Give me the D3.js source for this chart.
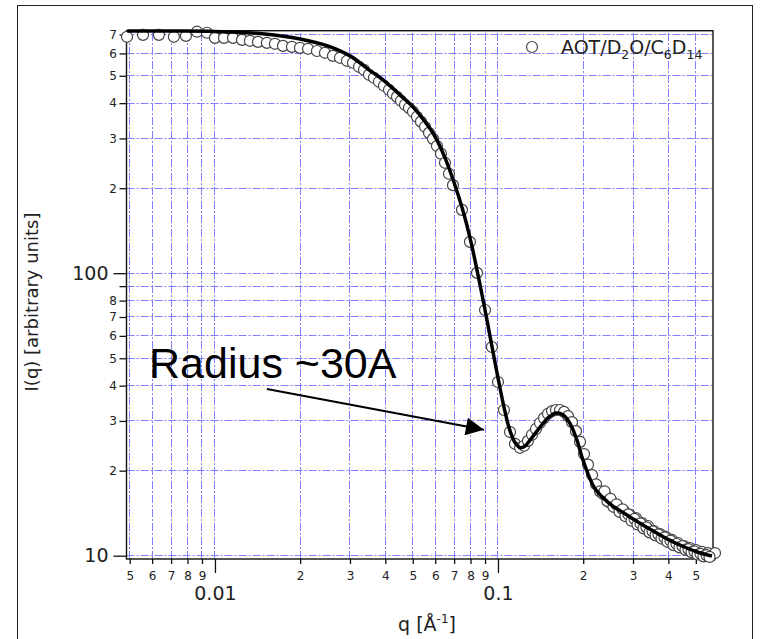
<!DOCTYPE html>
<html>
<head>
<meta charset="utf-8">
<script src="https://cdn.jsdelivr.net/npm/d3@7"></script>
<style>
  body { margin: 0; background: #fff; }
  svg { display: block; }
</style>
</head>
<body>
<div id="chart"></div>
<script>
// Measured data points (open circles).
const qData = [
  0.00489, 0.00557, 0.00634, 0.00716, 0.0079, 0.00864, 0.00937, 0.01,
  0.01076, 0.01158, 0.01246, 0.01329, 0.01419, 0.01526, 0.01629, 0.01739, 0.01871, 0.01997,
  0.02132, 0.02293, 0.02448, 0.02612, 0.02765, 0.02927,
  0.03073, 0.03228, 0.03362, 0.03501, 0.03646, 0.03797, 0.03955, 0.0412, 0.04256, 0.04397,
  0.04542, 0.04693, 0.04848, 0.05008, 0.05174, 0.05345, 0.05521, 0.05704, 0.05892, 0.06087,
  0.06289, 0.06497, 0.06712, 0.06934,
  0.0746, 0.0796, 0.0843, 0.09, 0.0952, 0.1, 0.105, 0.1103, 0.1148, 0.1196,
  0.1236, 0.1276, 0.1319, 0.1362, 0.1407, 0.1454, 0.1502, 0.1552, 0.1603, 0.1656,
  0.1711, 0.1767, 0.1826, 0.1886, 0.1949, 0.2014, 0.208, 0.2149, 0.222, 0.2293,
  0.235, 0.2408, 0.2468, 0.2528, 0.2591, 0.2655, 0.272, 0.2787, 0.2856, 0.2927,
  0.2999, 0.3073, 0.3149, 0.3227, 0.3306, 0.3388, 0.3472, 0.3557, 0.3645, 0.3735,
  0.3828, 0.3922, 0.4019, 0.4118, 0.422, 0.4325, 0.4431, 0.4541, 0.4653, 0.4768,
  0.4887, 0.5007, 0.5131, 0.5258, 0.5388, 0.5521, 0.5658, 0.5845,
  0.2379, 0.2438, 0.2498, 0.2559, 0.2623, 0.2688, 0.2753, 0.2821, 0.2891, 0.2963,
  0.3036, 0.3111, 0.3188, 0.3267, 0.3347, 0.343, 0.3515, 0.3601, 0.369, 0.3781,
  0.3875, 0.397, 0.4068, 0.4169, 0.4272, 0.4378, 0.4486, 0.4597, 0.471, 0.4827,
  0.4947, 0.5069, 0.5194, 0.5323, 0.5454, 0.5589
];
const iData = [
  687, 698, 698, 687, 692, 716, 710, 681,
  681, 681, 670, 665, 659, 654, 649, 638, 633, 628,
  623, 612, 603, 588, 579, 565,
  556, 538, 525, 504, 492, 476, 461, 446, 432, 421,
  408, 395, 385, 373, 358, 344, 330, 314, 299, 282,
  265, 246, 225, 205,
  167.6, 129.1, 100.3, 74.1, 54.8, 41.2, 32.8, 27.4, 24.9, 24.1,
  24.5, 25.5, 26.8, 28.1, 29.5, 30.7, 31.8, 32.5, 32.8, 32.8,
  32.3, 31.2, 29.7, 27.6, 25.3, 22.9, 21.0, 19.3, 17.9, 16.9,
  16.54, 16.27, 15.50, 15.50, 14.88, 14.88, 14.40, 14.40, 13.82, 13.94,
  13.49, 13.60, 13.05, 13.05, 12.64, 12.74, 12.13, 12.23, 11.84, 11.93,
  11.55, 11.65, 11.18, 11.37, 10.91, 11.09, 10.73, 10.82, 10.47, 10.65,
  10.31, 10.47, 10.14, 10.31, 10.06, 10.22, 9.98, 10.22,
  16.9, 15.6, 15.9, 14.9, 15.2, 14.3, 14.6, 13.8, 14.0, 13.3,
  13.5, 12.9, 13.0, 12.5, 12.6, 12.1, 12.2, 11.8, 11.9, 11.5,
  11.6, 11.2, 11.3, 10.9, 11.0, 10.7, 10.8, 10.5, 10.55, 10.3,
  10.35, 10.1, 10.15, 9.95, 10.05, 9.9
];

// Model fit (thick black line).
const qFit = [0.0049, 0.007, 0.01, 0.015, 0.02, 0.025, 0.03, 0.035, 0.04, 0.045,
  0.05, 0.055, 0.06, 0.065, 0.07, 0.075, 0.08, 0.085, 0.09, 0.095,
  0.1, 0.105, 0.11, 0.115, 0.12, 0.125, 0.13, 0.14, 0.15, 0.16,
  0.17, 0.18, 0.19, 0.2, 0.22, 0.25, 0.28, 0.3, 0.35, 0.4,
  0.45, 0.5, 0.55, 0.57];
const iFit = [720, 720, 718, 703, 675, 638, 588, 525, 476, 428,
  388, 346, 304, 256, 209, 168, 131, 98.6, 74.1, 55.7,
  42.6, 33.6, 27.9, 25.1, 24.1, 24.5, 25.7, 28.3, 30.7, 32.0,
  31.5, 29.3, 25.7, 21.7, 17.3, 15.2, 14.1, 13.5, 12.3, 11.4,
  10.8, 10.35, 10.06, 9.97];

// Tick values and labels.
const xMinorTicks = [0.005, 0.006, 0.007, 0.008, 0.009, 0.02, 0.03, 0.04, 0.05, 0.06, 0.07, 0.08, 0.09, 0.2, 0.3, 0.4, 0.5];
const xMinorLabels = ["5", "6", "7", "8", "9", "2", "3", "4", "5", "6", "7", "8", "9", "2", "3", "4", "5"];
const xMajorTicks = [0.01, 0.1];
const xMajorLabels = ["0.01", "0.1"];
const yMinorTicks = [20, 30, 40, 50, 60, 70, 80, 90, 200, 300, 400, 500, 600, 700];
const yMinorLabels = ["2", "3", "4", "5", "6", "7", "8", "", "2", "3", "4", "5", "6", "7"];
const yMajorTicks = [10, 100];
const yMajorLabels = ["10", "100"];

// Annotation (data coordinates).
const noteText = "Radius ~30A";
const notePos = [0.00585, 42.6];
const arrowFrom = [0.01526, 38.9];
const arrowTo = [0.0892, 27.9];

const width = 767, height = 639;
const svg = d3.select("#chart").append("svg")
  .attr("width", width)
  .attr("height", height);

// Outer figure border.
svg.append("rect")
  .attr("x", 17.5).attr("y", 5.5)
  .attr("width", 735).attr("height", 660)
  .attr("fill", "none").attr("stroke", "#222").attr("stroke-width", 1);

const x = d3.scaleLog().domain([0.00487, 0.575]).range([126.5, 713]);
const y = d3.scaleLog().domain([9.735, 722]).range([559, 30.7]);
const [x0, x1] = x.range();
const [y0, y1] = y.range();
const crisp = v => Math.round(v - 0.5) + 0.5;

// Dash-dot grid at every tick.
const grid = svg.append("g")
  .attr("stroke", "#8080ff")
  .attr("stroke-width", 1)
  .attr("stroke-dasharray", "8,2,2,2");
grid.selectAll("line.gx")
  .data(xMinorTicks.concat(xMajorTicks))
  .join("line")
  .attr("class", "gx")
  .attr("x1", d => crisp(x(d))).attr("x2", d => crisp(x(d)))
  .attr("y1", y0).attr("y2", y1);
grid.selectAll("line.gy")
  .data(yMinorTicks.concat(yMajorTicks))
  .join("line")
  .attr("class", "gy")
  .attr("x1", x0).attr("x2", x1)
  .attr("y1", d => crisp(y(d))).attr("y2", d => crisp(y(d)));

// Axes.
function styleAxis(g, size, ty) {
  g.select(".domain").remove();
  g.attr("font-family", "DejaVu Sans");
  g.selectAll(".tick line").attr("stroke", "#111").attr("stroke-width", 1.3);
  g.selectAll(".tick text").attr("fill", "#222").attr("font-size", size);
  if (ty !== null) g.selectAll(".tick text").attr("y", ty).attr("dy", "0.35em");
}

svg.append("g")
  .attr("transform", `translate(0,${y0})`)
  .call(d3.axisBottom(x).tickValues(xMinorTicks).tickSize(5)
    .tickFormat(d => xMinorLabels[xMinorTicks.indexOf(d)]))
  .call(g => styleAxis(g, 12, 17));
svg.append("g")
  .attr("transform", `translate(0,${y0})`)
  .call(d3.axisBottom(x).tickValues(xMajorTicks).tickSize(14)
    .tickFormat(d => xMajorLabels[xMajorTicks.indexOf(d)]))
  .call(g => styleAxis(g, 19, 34));
svg.append("g")
  .attr("transform", `translate(${x0},0)`)
  .call(d3.axisLeft(y).tickValues(yMinorTicks).tickSize(7).tickPadding(2.5)
    .tickFormat(d => yMinorLabels[yMinorTicks.indexOf(d)]))
  .call(g => styleAxis(g, 12, null));
svg.append("g")
  .attr("transform", `translate(${x0},0)`)
  .call(d3.axisLeft(y).tickValues(yMajorTicks).tickSize(13).tickPadding(5)
    .tickFormat(d => yMajorLabels[yMajorTicks.indexOf(d)]))
  .call(g => styleAxis(g, 19, null));

// Plot frame.
svg.append("rect")
  .attr("x", x0).attr("y", y1)
  .attr("width", x1 - x0).attr("height", y0 - y1)
  .attr("fill", "none").attr("stroke", "#111").attr("stroke-width", 1.4);

// Axis titles.
const xTitle = svg.append("text")
  .attr("x", 427).attr("y", 631)
  .attr("text-anchor", "middle")
  .attr("font-family", "DejaVu Sans").attr("font-size", 19).attr("fill", "#222");
xTitle.append("tspan").text("q [Å");
xTitle.append("tspan").attr("dy", -8).attr("font-size", 12).text("-1");
xTitle.append("tspan").attr("dy", 8).text("]");

svg.append("text")
  .attr("transform", "translate(38,302) rotate(-90)")
  .attr("text-anchor", "middle")
  .attr("font-family", "DejaVu Sans").attr("font-size", 18).attr("fill", "#222")
  .text("I(q) [arbitrary units]");

// Data circles.
const points = qData.map((q, i) => ({ q: q, I: iData[i] }));
svg.append("g")
  .selectAll("circle")
  .data(points)
  .join("circle")
  .attr("cx", d => x(d.q))
  .attr("cy", d => y(d.I))
  .attr("r", 5.5)
  .attr("fill", "#fff")
  .attr("stroke", "#444")
  .attr("stroke-width", 1.2);

// Fit line.
const fit = qFit.map((q, i) => ({ q: q, I: iFit[i] }));
svg.append("path")
  .datum(fit)
  .attr("fill", "none")
  .attr("stroke", "#000")
  .attr("stroke-width", 3.5)
  .attr("stroke-linejoin", "round")
  .attr("d", d3.line().x(d => x(d.q)).y(d => y(d.I)).curve(d3.curveCatmullRom.alpha(0.5)));

// Legend.
svg.append("circle")
  .attr("cx", 532).attr("cy", 47).attr("r", 5.5)
  .attr("fill", "#fff").attr("stroke", "#444").attr("stroke-width", 1.2);
const legendParts = [["AOT/D", false], ["2", true], ["O/C", false], ["6", true], ["D", false], ["14", true]];
const legend = svg.append("text")
  .attr("x", 561).attr("y", 53.5)
  .attr("font-family", "DejaVu Sans").attr("font-size", 19).attr("fill", "#222");
let shifted = false;
legendParts.forEach(([t, sub]) => {
  const ts = legend.append("tspan").text(t);
  if (sub && !shifted) { ts.attr("dy", 5).attr("font-size", 12.5); shifted = true; }
  else if (sub) { ts.attr("font-size", 12.5); }
  else if (shifted) { ts.attr("dy", -5); shifted = false; }
});

// Annotation and arrow.
svg.append("defs").append("marker")
  .attr("id", "arrow")
  .attr("viewBox", "0 0 10 10")
  .attr("refX", 10).attr("refY", 5)
  .attr("markerWidth", 21).attr("markerHeight", 18)
  .attr("markerUnits", "userSpaceOnUse")
  .attr("orient", "auto")
  .append("path")
  .attr("d", "M0,0 L10,5 L0,10 z")
  .attr("fill", "#000");

svg.append("line")
  .attr("x1", x(arrowFrom[0])).attr("y1", y(arrowFrom[1]))
  .attr("x2", x(arrowTo[0])).attr("y2", y(arrowTo[1]))
  .attr("stroke", "#000").attr("stroke-width", 2)
  .attr("marker-end", "url(#arrow)");

svg.append("text")
  .attr("x", x(notePos[0])).attr("y", y(notePos[1]))
  .attr("font-family", "Liberation Sans, Arial, sans-serif")
  .attr("font-size", 43).attr("fill", "#000")
  .text(noteText);
</script>
</body>
</html>
